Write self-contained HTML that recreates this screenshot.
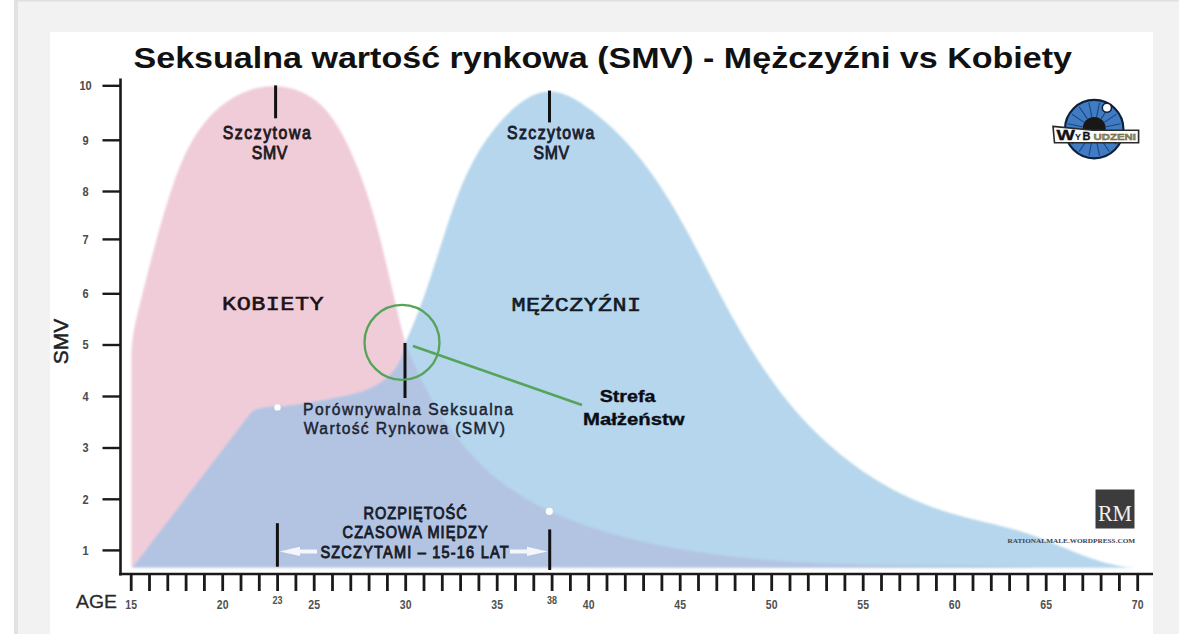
<!DOCTYPE html>
<html><head><meta charset="utf-8">
<style>
html,body{margin:0;padding:0;width:1179px;height:634px;overflow:hidden;background:#f2f2f2;}
svg{position:absolute;left:0;top:0;display:block;}
text{font-family:"Liberation Sans",sans-serif;}
.yl{font-size:12.5px;font-weight:bold;fill:#4a4a4a;text-anchor:middle;}
.xl{font-size:12.5px;font-weight:bold;fill:#505050;text-anchor:middle;}
.xs{font-size:10px;font-weight:bold;fill:#505050;text-anchor:middle;}
.din{font-family:"Liberation Sans",sans-serif;font-weight:normal;stroke-width:0.55px;paint-order:stroke;}
.mono{font-family:"Liberation Mono",monospace;font-weight:bold;}
</style></head>
<body>
<svg width="1179" height="634" viewBox="0 0 1179 634">
<defs>
<clipPath id="pinkclip"><path d="M131.5,567.5 L131.5,360.0 L131.4,357.0 L131.5,354.0 L131.6,351.0 L131.7,348.0 L132.0,345.0 L132.3,342.0 L132.6,339.1 L133.0,336.1 L133.5,333.2 L134.0,330.2 L134.5,327.3 L135.1,324.3 L135.7,321.4 L136.4,318.5 L137.0,315.6 L137.7,312.7 L138.4,309.7 L139.2,306.8 L139.9,303.9 L140.6,301.1 L141.3,298.2 L142.1,295.3 L142.8,292.4 L143.5,289.5 L144.2,286.6 L145.0,283.8 L145.7,280.9 L146.4,278.0 L147.2,275.2 L147.9,272.3 L148.6,269.4 L149.4,266.6 L150.1,263.7 L150.8,260.9 L151.6,258.0 L152.3,255.1 L153.1,252.3 L153.9,249.4 L154.6,246.5 L155.4,243.7 L156.2,240.8 L157.0,237.9 L157.7,235.1 L158.5,232.2 L159.4,229.3 L160.2,226.5 L161.0,223.6 L161.8,220.7 L162.7,217.8 L163.5,214.9 L164.4,212.0 L165.3,209.1 L166.1,206.2 L167.0,203.3 L168.0,200.4 L168.9,197.5 L169.8,194.5 L170.8,191.6 L171.7,188.7 L172.7,185.8 L173.7,182.9 L174.8,179.9 L175.8,177.0 L176.9,174.1 L178.0,171.3 L179.1,168.4 L180.3,165.5 L181.5,162.7 L182.7,159.9 L183.9,157.1 L185.2,154.3 L186.5,151.6 L187.9,148.8 L189.3,146.2 L190.7,143.5 L192.2,140.9 L193.7,138.3 L195.3,135.7 L196.9,133.2 L198.6,130.7 L200.3,128.3 L202.1,125.9 L203.9,123.5 L205.8,121.2 L207.7,118.9 L209.7,116.7 L211.7,114.6 L213.8,112.5 L216.0,110.5 L218.2,108.5 L220.5,106.6 L222.8,104.7 L225.2,102.9 L227.7,101.2 L230.2,99.5 L232.8,98.0 L235.4,96.5 L238.1,95.1 L240.8,93.8 L243.5,92.5 L246.3,91.4 L249.1,90.4 L251.9,89.5 L254.8,88.6 L257.7,87.9 L260.6,87.4 L263.5,86.9 L266.4,86.5 L269.3,86.3 L272.2,86.2 L275.1,86.2 L278.0,86.4 L280.9,86.6 L283.7,87.0 L286.6,87.5 L289.4,88.1 L292.2,88.8 L294.9,89.6 L297.6,90.6 L300.3,91.6 L302.9,92.8 L305.5,94.0 L308.0,95.4 L310.5,96.9 L312.9,98.4 L315.2,100.1 L317.4,101.9 L319.6,103.8 L321.7,105.8 L323.8,107.8 L325.8,110.0 L327.7,112.2 L329.5,114.5 L331.3,116.8 L333.1,119.3 L334.8,121.7 L336.4,124.3 L338.0,126.9 L339.6,129.5 L341.1,132.2 L342.6,134.9 L344.0,137.6 L345.4,140.4 L346.8,143.2 L348.1,146.0 L349.4,148.8 L350.7,151.6 L352.0,154.4 L353.2,157.2 L354.4,160.0 L355.6,162.9 L356.7,165.7 L357.9,168.5 L359.0,171.4 L360.1,174.2 L361.2,177.1 L362.2,179.9 L363.2,182.8 L364.2,185.6 L365.2,188.5 L366.2,191.3 L367.2,194.2 L368.1,197.1 L369.0,200.0 L370.0,202.8 L370.8,205.7 L371.7,208.6 L372.6,211.5 L373.4,214.4 L374.3,217.2 L375.1,220.1 L375.9,223.0 L376.7,225.9 L377.5,228.8 L378.3,231.7 L379.0,234.6 L379.8,237.5 L380.5,240.4 L381.3,243.3 L382.0,246.2 L382.7,249.1 L383.4,252.0 L384.1,254.9 L384.8,257.8 L385.5,260.7 L386.2,263.6 L386.9,266.6 L387.6,269.5 L388.3,272.4 L389.0,275.3 L389.6,278.2 L390.3,281.1 L391.0,284.0 L391.7,286.9 L392.3,289.8 L393.0,292.7 L393.7,295.6 L394.3,298.5 L395.0,301.5 L395.7,304.4 L396.4,307.3 L397.1,310.2 L397.8,313.1 L398.5,316.0 L399.2,318.9 L399.9,321.8 L400.6,324.7 L401.3,327.6 L402.0,330.4 L402.8,333.3 L403.5,336.2 L404.2,339.1 L405.0,342.0 L406.0,344.7 L407.1,347.5 L408.2,350.2 L409.3,352.9 L410.4,355.7 L411.6,358.4 L412.7,361.2 L413.9,363.9 L415.2,366.6 L416.4,369.4 L417.7,372.1 L418.9,374.8 L420.3,377.5 L421.6,380.2 L422.9,382.9 L424.3,385.6 L425.7,388.3 L427.1,391.0 L428.6,393.7 L430.0,396.3 L431.5,399.0 L433.0,401.6 L434.6,404.3 L436.1,406.9 L437.7,409.5 L439.3,412.1 L440.9,414.7 L442.6,417.2 L444.2,419.8 L445.9,422.3 L447.7,424.8 L449.4,427.3 L451.2,429.8 L453.0,432.2 L454.8,434.6 L456.6,437.1 L458.5,439.5 L460.3,441.8 L462.2,444.2 L464.2,446.5 L466.1,448.8 L468.1,451.1 L470.1,453.3 L472.1,455.5 L474.2,457.7 L476.2,459.9 L478.3,462.0 L480.5,464.1 L482.6,466.2 L484.8,468.3 L487.0,470.3 L489.2,472.3 L491.4,474.2 L493.7,476.1 L496.0,478.0 L498.3,479.9 L500.6,481.7 L503.0,483.5 L505.4,485.2 L507.8,487.0 L510.2,488.7 L512.6,490.3 L515.1,492.0 L517.6,493.6 L520.1,495.1 L522.6,496.7 L525.1,498.2 L527.7,499.7 L530.3,501.2 L532.9,502.6 L535.5,504.0 L538.1,505.4 L540.8,506.8 L543.4,508.1 L546.1,509.4 L548.8,510.7 L551.5,511.9 L554.2,513.2 L556.9,514.4 L559.7,515.6 L562.4,516.7 L565.2,517.9 L568.0,519.0 L570.7,520.1 L573.5,521.1 L576.4,522.2 L579.2,523.2 L582.0,524.2 L584.8,525.2 L587.7,526.2 L590.5,527.2 L593.4,528.1 L596.3,529.0 L599.1,529.9 L602.0,530.8 L604.9,531.7 L607.8,532.5 L610.7,533.4 L613.6,534.2 L616.5,535.0 L619.4,535.8 L622.3,536.6 L625.2,537.3 L628.1,538.1 L631.0,538.8 L633.9,539.5 L636.8,540.2 L639.8,540.9 L642.7,541.6 L645.6,542.3 L648.5,542.9 L651.5,543.6 L654.4,544.2 L657.3,544.8 L660.3,545.4 L663.2,546.0 L666.1,546.6 L669.1,547.2 L672.0,547.7 L675.0,548.3 L677.9,548.8 L680.9,549.3 L683.8,549.8 L686.8,550.3 L689.7,550.8 L692.7,551.3 L695.6,551.7 L698.6,552.2 L701.6,552.6 L704.5,553.1 L707.5,553.5 L710.5,553.9 L713.4,554.3 L716.4,554.7 L719.4,555.1 L722.3,555.4 L725.3,555.8 L728.3,556.2 L731.3,556.5 L734.2,556.8 L737.2,557.2 L740.2,557.5 L743.2,557.8 L746.2,558.1 L749.2,558.4 L752.1,558.7 L755.1,558.9 L758.1,559.2 L761.1,559.5 L764.1,559.7 L767.1,560.0 L770.1,560.2 L773.1,560.4 L776.1,560.6 L779.1,560.9 L782.1,561.1 L785.1,561.3 L788.1,561.5 L791.0,561.7 L794.0,561.8 L797.0,562.0 L800.0,562.2 L803.1,562.3 L806.1,562.5 L809.1,562.6 L812.1,562.8 L815.1,562.9 L818.1,563.1 L821.1,563.2 L824.1,563.3 L827.1,563.4 L830.1,563.6 L833.1,563.7 L836.1,563.8 L839.1,563.9 L842.1,564.0 L845.1,564.1 L848.1,564.1 L851.1,564.2 L854.2,564.3 L857.2,564.4 L860.2,564.5 L863.2,564.5 L866.2,564.6 L869.2,564.7 L872.2,564.7 L875.2,564.8 L878.2,564.8 L881.2,564.9 L884.3,564.9 L887.3,565.0 L890.3,565.0 L893.3,565.1 L896.3,565.1 L899.3,565.1 L902.3,565.2 L905.3,565.2 L908.3,565.3 L911.3,565.3 L914.3,565.3 L917.4,565.4 L920.4,565.4 L923.4,565.4 L926.4,565.4 L929.4,565.5 L932.4,565.5 L935.4,565.5 L938.4,565.6 L941.4,565.6 L944.4,565.6 L947.4,565.7 L950.4,565.7 L953.4,565.7 L956.4,565.7 L959.4,565.8 L962.4,565.8 L965.4,565.8 L968.4,565.9 L971.4,565.9 L974.4,566.0 L977.4,566.0 L980.4,566.0 L983.4,566.1 L986.4,566.1 L989.4,566.2 L992.3,566.2 L995.3,566.3 L998.3,566.4 L1001.3,566.4 L1004.3,566.5 L1007.3,566.5 L1010.3,566.6 L1013.2,566.7 L1016.2,566.8 L1019.2,566.8 L1022.2,566.9 L1025.1,567.0 L1028.1,567.1 L1031.1,567.2 L1034.1,567.3 L1037.0,567.4 L1040.0,567.5 L131.5,567.5 Z"/></clipPath>
<filter id="soft" x="-5%" y="-5%" width="110%" height="110%"><feGaussianBlur stdDeviation="1.2"/></filter>
</defs>
<!-- page frame -->
<rect x="0" y="0" width="14" height="634" fill="#ffffff"/>
<rect x="14" y="0" width="4" height="634" fill="#e2e2e2"/>
<rect x="14" y="0" width="1165" height="1.5" fill="#e0e0e0"/>
<rect x="50" y="32" width="1103" height="602" fill="#ffffff"/>

<g filter="url(#soft)">
<path d="M131.5,567.5 L131.5,360.0 L131.4,357.0 L131.5,354.0 L131.6,351.0 L131.7,348.0 L132.0,345.0 L132.3,342.0 L132.6,339.1 L133.0,336.1 L133.5,333.2 L134.0,330.2 L134.5,327.3 L135.1,324.3 L135.7,321.4 L136.4,318.5 L137.0,315.6 L137.7,312.7 L138.4,309.7 L139.2,306.8 L139.9,303.9 L140.6,301.1 L141.3,298.2 L142.1,295.3 L142.8,292.4 L143.5,289.5 L144.2,286.6 L145.0,283.8 L145.7,280.9 L146.4,278.0 L147.2,275.2 L147.9,272.3 L148.6,269.4 L149.4,266.6 L150.1,263.7 L150.8,260.9 L151.6,258.0 L152.3,255.1 L153.1,252.3 L153.9,249.4 L154.6,246.5 L155.4,243.7 L156.2,240.8 L157.0,237.9 L157.7,235.1 L158.5,232.2 L159.4,229.3 L160.2,226.5 L161.0,223.6 L161.8,220.7 L162.7,217.8 L163.5,214.9 L164.4,212.0 L165.3,209.1 L166.1,206.2 L167.0,203.3 L168.0,200.4 L168.9,197.5 L169.8,194.5 L170.8,191.6 L171.7,188.7 L172.7,185.8 L173.7,182.9 L174.8,179.9 L175.8,177.0 L176.9,174.1 L178.0,171.3 L179.1,168.4 L180.3,165.5 L181.5,162.7 L182.7,159.9 L183.9,157.1 L185.2,154.3 L186.5,151.6 L187.9,148.8 L189.3,146.2 L190.7,143.5 L192.2,140.9 L193.7,138.3 L195.3,135.7 L196.9,133.2 L198.6,130.7 L200.3,128.3 L202.1,125.9 L203.9,123.5 L205.8,121.2 L207.7,118.9 L209.7,116.7 L211.7,114.6 L213.8,112.5 L216.0,110.5 L218.2,108.5 L220.5,106.6 L222.8,104.7 L225.2,102.9 L227.7,101.2 L230.2,99.5 L232.8,98.0 L235.4,96.5 L238.1,95.1 L240.8,93.8 L243.5,92.5 L246.3,91.4 L249.1,90.4 L251.9,89.5 L254.8,88.6 L257.7,87.9 L260.6,87.4 L263.5,86.9 L266.4,86.5 L269.3,86.3 L272.2,86.2 L275.1,86.2 L278.0,86.4 L280.9,86.6 L283.7,87.0 L286.6,87.5 L289.4,88.1 L292.2,88.8 L294.9,89.6 L297.6,90.6 L300.3,91.6 L302.9,92.8 L305.5,94.0 L308.0,95.4 L310.5,96.9 L312.9,98.4 L315.2,100.1 L317.4,101.9 L319.6,103.8 L321.7,105.8 L323.8,107.8 L325.8,110.0 L327.7,112.2 L329.5,114.5 L331.3,116.8 L333.1,119.3 L334.8,121.7 L336.4,124.3 L338.0,126.9 L339.6,129.5 L341.1,132.2 L342.6,134.9 L344.0,137.6 L345.4,140.4 L346.8,143.2 L348.1,146.0 L349.4,148.8 L350.7,151.6 L352.0,154.4 L353.2,157.2 L354.4,160.0 L355.6,162.9 L356.7,165.7 L357.9,168.5 L359.0,171.4 L360.1,174.2 L361.2,177.1 L362.2,179.9 L363.2,182.8 L364.2,185.6 L365.2,188.5 L366.2,191.3 L367.2,194.2 L368.1,197.1 L369.0,200.0 L370.0,202.8 L370.8,205.7 L371.7,208.6 L372.6,211.5 L373.4,214.4 L374.3,217.2 L375.1,220.1 L375.9,223.0 L376.7,225.9 L377.5,228.8 L378.3,231.7 L379.0,234.6 L379.8,237.5 L380.5,240.4 L381.3,243.3 L382.0,246.2 L382.7,249.1 L383.4,252.0 L384.1,254.9 L384.8,257.8 L385.5,260.7 L386.2,263.6 L386.9,266.6 L387.6,269.5 L388.3,272.4 L389.0,275.3 L389.6,278.2 L390.3,281.1 L391.0,284.0 L391.7,286.9 L392.3,289.8 L393.0,292.7 L393.7,295.6 L394.3,298.5 L395.0,301.5 L395.7,304.4 L396.4,307.3 L397.1,310.2 L397.8,313.1 L398.5,316.0 L399.2,318.9 L399.9,321.8 L400.6,324.7 L401.3,327.6 L402.0,330.4 L402.8,333.3 L403.5,336.2 L404.2,339.1 L405.0,342.0 L406.0,344.7 L407.1,347.5 L408.2,350.2 L409.3,352.9 L410.4,355.7 L411.6,358.4 L412.7,361.2 L413.9,363.9 L415.2,366.6 L416.4,369.4 L417.7,372.1 L418.9,374.8 L420.3,377.5 L421.6,380.2 L422.9,382.9 L424.3,385.6 L425.7,388.3 L427.1,391.0 L428.6,393.7 L430.0,396.3 L431.5,399.0 L433.0,401.6 L434.6,404.3 L436.1,406.9 L437.7,409.5 L439.3,412.1 L440.9,414.7 L442.6,417.2 L444.2,419.8 L445.9,422.3 L447.7,424.8 L449.4,427.3 L451.2,429.8 L453.0,432.2 L454.8,434.6 L456.6,437.1 L458.5,439.5 L460.3,441.8 L462.2,444.2 L464.2,446.5 L466.1,448.8 L468.1,451.1 L470.1,453.3 L472.1,455.5 L474.2,457.7 L476.2,459.9 L478.3,462.0 L480.5,464.1 L482.6,466.2 L484.8,468.3 L487.0,470.3 L489.2,472.3 L491.4,474.2 L493.7,476.1 L496.0,478.0 L498.3,479.9 L500.6,481.7 L503.0,483.5 L505.4,485.2 L507.8,487.0 L510.2,488.7 L512.6,490.3 L515.1,492.0 L517.6,493.6 L520.1,495.1 L522.6,496.7 L525.1,498.2 L527.7,499.7 L530.3,501.2 L532.9,502.6 L535.5,504.0 L538.1,505.4 L540.8,506.8 L543.4,508.1 L546.1,509.4 L548.8,510.7 L551.5,511.9 L554.2,513.2 L556.9,514.4 L559.7,515.6 L562.4,516.7 L565.2,517.9 L568.0,519.0 L570.7,520.1 L573.5,521.1 L576.4,522.2 L579.2,523.2 L582.0,524.2 L584.8,525.2 L587.7,526.2 L590.5,527.2 L593.4,528.1 L596.3,529.0 L599.1,529.9 L602.0,530.8 L604.9,531.7 L607.8,532.5 L610.7,533.4 L613.6,534.2 L616.5,535.0 L619.4,535.8 L622.3,536.6 L625.2,537.3 L628.1,538.1 L631.0,538.8 L633.9,539.5 L636.8,540.2 L639.8,540.9 L642.7,541.6 L645.6,542.3 L648.5,542.9 L651.5,543.6 L654.4,544.2 L657.3,544.8 L660.3,545.4 L663.2,546.0 L666.1,546.6 L669.1,547.2 L672.0,547.7 L675.0,548.3 L677.9,548.8 L680.9,549.3 L683.8,549.8 L686.8,550.3 L689.7,550.8 L692.7,551.3 L695.6,551.7 L698.6,552.2 L701.6,552.6 L704.5,553.1 L707.5,553.5 L710.5,553.9 L713.4,554.3 L716.4,554.7 L719.4,555.1 L722.3,555.4 L725.3,555.8 L728.3,556.2 L731.3,556.5 L734.2,556.8 L737.2,557.2 L740.2,557.5 L743.2,557.8 L746.2,558.1 L749.2,558.4 L752.1,558.7 L755.1,558.9 L758.1,559.2 L761.1,559.5 L764.1,559.7 L767.1,560.0 L770.1,560.2 L773.1,560.4 L776.1,560.6 L779.1,560.9 L782.1,561.1 L785.1,561.3 L788.1,561.5 L791.0,561.7 L794.0,561.8 L797.0,562.0 L800.0,562.2 L803.1,562.3 L806.1,562.5 L809.1,562.6 L812.1,562.8 L815.1,562.9 L818.1,563.1 L821.1,563.2 L824.1,563.3 L827.1,563.4 L830.1,563.6 L833.1,563.7 L836.1,563.8 L839.1,563.9 L842.1,564.0 L845.1,564.1 L848.1,564.1 L851.1,564.2 L854.2,564.3 L857.2,564.4 L860.2,564.5 L863.2,564.5 L866.2,564.6 L869.2,564.7 L872.2,564.7 L875.2,564.8 L878.2,564.8 L881.2,564.9 L884.3,564.9 L887.3,565.0 L890.3,565.0 L893.3,565.1 L896.3,565.1 L899.3,565.1 L902.3,565.2 L905.3,565.2 L908.3,565.3 L911.3,565.3 L914.3,565.3 L917.4,565.4 L920.4,565.4 L923.4,565.4 L926.4,565.4 L929.4,565.5 L932.4,565.5 L935.4,565.5 L938.4,565.6 L941.4,565.6 L944.4,565.6 L947.4,565.7 L950.4,565.7 L953.4,565.7 L956.4,565.7 L959.4,565.8 L962.4,565.8 L965.4,565.8 L968.4,565.9 L971.4,565.9 L974.4,566.0 L977.4,566.0 L980.4,566.0 L983.4,566.1 L986.4,566.1 L989.4,566.2 L992.3,566.2 L995.3,566.3 L998.3,566.4 L1001.3,566.4 L1004.3,566.5 L1007.3,566.5 L1010.3,566.6 L1013.2,566.7 L1016.2,566.8 L1019.2,566.8 L1022.2,566.9 L1025.1,567.0 L1028.1,567.1 L1031.1,567.2 L1034.1,567.3 L1037.0,567.4 L1040.0,567.5 L131.5,567.5 Z" fill="#f0ccd8"/>
<path d="M132.5,567.5 L251.0,412.5 L253.4,410.9 L256.0,409.6 L258.7,408.6 L261.5,407.9 L264.4,407.4 L267.3,407.1 L270.3,406.8 L273.3,406.6 L276.3,406.5 L279.3,406.3 L282.3,406.1 L285.3,405.9 L288.3,405.6 L291.2,405.2 L294.2,404.9 L297.1,404.5 L300.0,404.1 L302.9,403.6 L305.9,403.2 L308.8,402.7 L311.7,402.2 L314.6,401.6 L317.6,401.1 L320.5,400.6 L323.5,400.0 L326.4,399.5 L329.4,398.9 L332.4,398.3 L335.4,397.8 L338.4,397.2 L341.4,396.6 L344.4,396.0 L347.3,395.3 L350.3,394.7 L353.3,393.9 L356.2,393.1 L359.1,392.3 L361.9,391.4 L364.7,390.4 L367.5,389.3 L370.2,388.2 L372.9,386.9 L375.5,385.6 L378.0,384.1 L380.5,382.6 L382.9,380.9 L385.2,379.1 L387.4,377.2 L389.5,375.1 L391.5,373.0 L393.5,370.7 L395.3,368.4 L396.9,365.9 L398.5,363.3 L399.9,360.7 L401.2,357.9 L402.3,355.1 L403.2,352.2 L404.0,349.2 L404.6,346.1 L405.0,343.0 L406.2,340.4 L407.5,337.7 L408.7,335.0 L409.9,332.3 L411.1,329.6 L412.2,326.9 L413.4,324.1 L414.5,321.4 L415.6,318.6 L416.7,315.8 L417.8,313.0 L418.9,310.2 L419.9,307.4 L421.0,304.6 L422.0,301.7 L423.1,298.9 L424.1,296.0 L425.1,293.2 L426.1,290.3 L427.1,287.4 L428.1,284.6 L429.0,281.7 L430.0,278.8 L431.0,275.9 L431.9,273.0 L432.9,270.1 L433.8,267.2 L434.7,264.4 L435.7,261.5 L436.6,258.6 L437.5,255.7 L438.5,252.8 L439.4,249.9 L440.3,247.0 L441.2,244.1 L442.2,241.3 L443.1,238.4 L444.0,235.5 L444.9,232.7 L445.8,229.8 L446.8,227.0 L447.7,224.2 L448.6,221.4 L449.6,218.5 L450.5,215.7 L451.5,212.9 L452.4,210.2 L453.4,207.4 L454.4,204.6 L455.4,201.9 L456.4,199.1 L457.4,196.4 L458.5,193.6 L459.6,190.9 L460.6,188.2 L461.7,185.5 L462.9,182.8 L464.0,180.2 L465.2,177.5 L466.4,174.8 L467.7,172.2 L469.0,169.5 L470.3,166.9 L471.6,164.3 L473.0,161.7 L474.4,159.1 L475.8,156.5 L477.3,153.9 L478.8,151.3 L480.4,148.8 L482.0,146.2 L483.7,143.7 L485.4,141.2 L487.1,138.7 L488.9,136.2 L490.8,133.7 L492.7,131.2 L494.6,128.7 L496.7,126.2 L498.7,123.8 L500.8,121.3 L503.0,118.9 L505.3,116.5 L507.5,114.2 L509.9,111.9 L512.2,109.7 L514.6,107.6 L517.1,105.5 L519.6,103.6 L522.1,101.7 L524.7,100.0 L527.2,98.4 L529.9,96.9 L532.5,95.6 L535.2,94.5 L537.8,93.5 L540.5,92.7 L543.2,92.1 L546.0,91.7 L548.7,91.6 L551.4,91.6 L554.2,91.8 L556.9,92.3 L559.7,92.9 L562.4,93.7 L565.1,94.7 L567.9,95.8 L570.6,97.1 L573.3,98.5 L576.0,100.0 L578.6,101.6 L581.3,103.3 L583.9,105.0 L586.5,106.9 L589.0,108.7 L591.6,110.6 L594.1,112.5 L596.5,114.4 L598.9,116.4 L601.3,118.4 L603.7,120.4 L606.0,122.4 L608.3,124.4 L610.5,126.5 L612.8,128.6 L615.0,130.7 L617.1,132.8 L619.3,134.9 L621.4,137.1 L623.5,139.3 L625.5,141.5 L627.6,143.7 L629.6,145.9 L631.5,148.2 L633.5,150.4 L635.4,152.7 L637.3,155.0 L639.2,157.3 L641.1,159.7 L642.9,162.0 L644.7,164.4 L646.5,166.8 L648.3,169.2 L650.0,171.6 L651.8,174.0 L653.5,176.4 L655.2,178.8 L656.9,181.3 L658.5,183.8 L660.2,186.2 L661.8,188.7 L663.4,191.2 L665.0,193.8 L666.6,196.3 L668.2,198.8 L669.8,201.3 L671.3,203.9 L672.8,206.5 L674.4,209.0 L675.9,211.6 L677.4,214.2 L678.9,216.8 L680.3,219.4 L681.8,222.0 L683.3,224.6 L684.7,227.2 L686.2,229.8 L687.6,232.5 L689.0,235.1 L690.5,237.8 L691.9,240.4 L693.3,243.0 L694.7,245.7 L696.1,248.4 L697.5,251.0 L698.9,253.7 L700.3,256.3 L701.7,259.0 L703.0,261.7 L704.4,264.3 L705.8,267.0 L707.2,269.7 L708.6,272.3 L710.0,275.0 L711.3,277.7 L712.7,280.4 L714.1,283.0 L715.5,285.7 L716.9,288.3 L718.3,291.0 L719.7,293.7 L721.1,296.3 L722.5,299.0 L723.9,301.6 L725.3,304.3 L726.7,306.9 L728.2,309.5 L729.6,312.2 L731.0,314.8 L732.5,317.4 L734.0,320.0 L735.4,322.6 L736.9,325.2 L738.4,327.8 L739.9,330.4 L741.4,333.0 L742.9,335.6 L744.4,338.2 L745.9,340.7 L747.4,343.3 L749.0,345.8 L750.5,348.4 L752.1,350.9 L753.7,353.4 L755.3,356.0 L756.9,358.5 L758.5,361.0 L760.1,363.5 L761.8,365.9 L763.4,368.4 L765.1,370.9 L766.8,373.3 L768.5,375.8 L770.2,378.2 L771.9,380.6 L773.6,383.0 L775.4,385.4 L777.2,387.8 L778.9,390.2 L780.7,392.5 L782.6,394.9 L784.4,397.2 L786.2,399.6 L788.1,401.9 L790.0,404.2 L791.9,406.5 L793.8,408.7 L795.8,411.0 L797.7,413.2 L799.7,415.5 L801.7,417.7 L803.7,419.9 L805.7,422.1 L807.8,424.3 L809.9,426.4 L812.0,428.6 L814.1,430.7 L816.2,432.8 L818.4,434.9 L820.5,437.0 L822.7,439.0 L824.9,441.1 L827.2,443.1 L829.4,445.1 L831.7,447.1 L834.0,449.1 L836.3,451.0 L838.6,453.0 L840.9,454.9 L843.3,456.8 L845.7,458.6 L848.1,460.5 L850.5,462.3 L852.9,464.1 L855.3,465.9 L857.8,467.7 L860.2,469.4 L862.7,471.2 L865.2,472.9 L867.7,474.5 L870.2,476.2 L872.8,477.8 L875.3,479.4 L877.9,481.0 L880.5,482.5 L883.0,484.1 L885.6,485.6 L888.3,487.1 L890.9,488.5 L893.5,489.9 L896.2,491.3 L898.8,492.7 L901.5,494.0 L904.2,495.3 L906.9,496.6 L909.6,497.9 L912.3,499.1 L915.0,500.3 L917.7,501.5 L920.5,502.6 L923.2,503.7 L926.0,504.8 L928.7,505.8 L931.5,506.9 L934.3,507.9 L937.1,508.8 L939.9,509.8 L942.7,510.7 L945.5,511.6 L948.3,512.5 L951.2,513.4 L954.0,514.2 L956.9,515.0 L959.8,515.8 L962.6,516.6 L965.5,517.4 L968.4,518.1 L971.3,518.9 L974.2,519.6 L977.1,520.3 L980.1,521.0 L983.0,521.7 L985.9,522.4 L988.8,523.1 L991.8,523.8 L994.7,524.5 L997.6,525.2 L1000.6,525.9 L1003.5,526.7 L1006.4,527.4 L1009.3,528.2 L1012.2,529.0 L1015.1,529.8 L1018.0,530.6 L1020.9,531.5 L1023.8,532.4 L1026.6,533.3 L1029.4,534.2 L1032.3,535.2 L1035.1,536.2 L1037.9,537.3 L1040.7,538.3 L1043.5,539.4 L1046.3,540.5 L1049.0,541.6 L1051.8,542.8 L1054.6,543.9 L1057.3,545.0 L1060.1,546.2 L1062.9,547.3 L1065.6,548.5 L1068.4,549.6 L1071.1,550.8 L1073.9,551.9 L1076.7,553.0 L1079.5,554.1 L1082.3,555.2 L1085.0,556.2 L1087.9,557.2 L1090.7,558.2 L1093.5,559.2 L1096.3,560.1 L1099.2,561.0 L1102.1,561.9 L1105.0,562.7 L1107.9,563.4 L1110.8,564.1 L1113.7,564.8 L1116.7,565.4 L1119.7,566.0 L1122.7,566.5 L1125.7,566.9 L1128.8,567.3 L1131.9,567.6 L1135.0,567.8 L132.5,567.5 Z" fill="#b5d6ec"/>
<path d="M132.5,567.5 L251.0,412.5 L253.4,410.9 L256.0,409.6 L258.7,408.6 L261.5,407.9 L264.4,407.4 L267.3,407.1 L270.3,406.8 L273.3,406.6 L276.3,406.5 L279.3,406.3 L282.3,406.1 L285.3,405.9 L288.3,405.6 L291.2,405.2 L294.2,404.9 L297.1,404.5 L300.0,404.1 L302.9,403.6 L305.9,403.2 L308.8,402.7 L311.7,402.2 L314.6,401.6 L317.6,401.1 L320.5,400.6 L323.5,400.0 L326.4,399.5 L329.4,398.9 L332.4,398.3 L335.4,397.8 L338.4,397.2 L341.4,396.6 L344.4,396.0 L347.3,395.3 L350.3,394.7 L353.3,393.9 L356.2,393.1 L359.1,392.3 L361.9,391.4 L364.7,390.4 L367.5,389.3 L370.2,388.2 L372.9,386.9 L375.5,385.6 L378.0,384.1 L380.5,382.6 L382.9,380.9 L385.2,379.1 L387.4,377.2 L389.5,375.1 L391.5,373.0 L393.5,370.7 L395.3,368.4 L396.9,365.9 L398.5,363.3 L399.9,360.7 L401.2,357.9 L402.3,355.1 L403.2,352.2 L404.0,349.2 L404.6,346.1 L405.0,343.0 L406.2,340.4 L407.5,337.7 L408.7,335.0 L409.9,332.3 L411.1,329.6 L412.2,326.9 L413.4,324.1 L414.5,321.4 L415.6,318.6 L416.7,315.8 L417.8,313.0 L418.9,310.2 L419.9,307.4 L421.0,304.6 L422.0,301.7 L423.1,298.9 L424.1,296.0 L425.1,293.2 L426.1,290.3 L427.1,287.4 L428.1,284.6 L429.0,281.7 L430.0,278.8 L431.0,275.9 L431.9,273.0 L432.9,270.1 L433.8,267.2 L434.7,264.4 L435.7,261.5 L436.6,258.6 L437.5,255.7 L438.5,252.8 L439.4,249.9 L440.3,247.0 L441.2,244.1 L442.2,241.3 L443.1,238.4 L444.0,235.5 L444.9,232.7 L445.8,229.8 L446.8,227.0 L447.7,224.2 L448.6,221.4 L449.6,218.5 L450.5,215.7 L451.5,212.9 L452.4,210.2 L453.4,207.4 L454.4,204.6 L455.4,201.9 L456.4,199.1 L457.4,196.4 L458.5,193.6 L459.6,190.9 L460.6,188.2 L461.7,185.5 L462.9,182.8 L464.0,180.2 L465.2,177.5 L466.4,174.8 L467.7,172.2 L469.0,169.5 L470.3,166.9 L471.6,164.3 L473.0,161.7 L474.4,159.1 L475.8,156.5 L477.3,153.9 L478.8,151.3 L480.4,148.8 L482.0,146.2 L483.7,143.7 L485.4,141.2 L487.1,138.7 L488.9,136.2 L490.8,133.7 L492.7,131.2 L494.6,128.7 L496.7,126.2 L498.7,123.8 L500.8,121.3 L503.0,118.9 L505.3,116.5 L507.5,114.2 L509.9,111.9 L512.2,109.7 L514.6,107.6 L517.1,105.5 L519.6,103.6 L522.1,101.7 L524.7,100.0 L527.2,98.4 L529.9,96.9 L532.5,95.6 L535.2,94.5 L537.8,93.5 L540.5,92.7 L543.2,92.1 L546.0,91.7 L548.7,91.6 L551.4,91.6 L554.2,91.8 L556.9,92.3 L559.7,92.9 L562.4,93.7 L565.1,94.7 L567.9,95.8 L570.6,97.1 L573.3,98.5 L576.0,100.0 L578.6,101.6 L581.3,103.3 L583.9,105.0 L586.5,106.9 L589.0,108.7 L591.6,110.6 L594.1,112.5 L596.5,114.4 L598.9,116.4 L601.3,118.4 L603.7,120.4 L606.0,122.4 L608.3,124.4 L610.5,126.5 L612.8,128.6 L615.0,130.7 L617.1,132.8 L619.3,134.9 L621.4,137.1 L623.5,139.3 L625.5,141.5 L627.6,143.7 L629.6,145.9 L631.5,148.2 L633.5,150.4 L635.4,152.7 L637.3,155.0 L639.2,157.3 L641.1,159.7 L642.9,162.0 L644.7,164.4 L646.5,166.8 L648.3,169.2 L650.0,171.6 L651.8,174.0 L653.5,176.4 L655.2,178.8 L656.9,181.3 L658.5,183.8 L660.2,186.2 L661.8,188.7 L663.4,191.2 L665.0,193.8 L666.6,196.3 L668.2,198.8 L669.8,201.3 L671.3,203.9 L672.8,206.5 L674.4,209.0 L675.9,211.6 L677.4,214.2 L678.9,216.8 L680.3,219.4 L681.8,222.0 L683.3,224.6 L684.7,227.2 L686.2,229.8 L687.6,232.5 L689.0,235.1 L690.5,237.8 L691.9,240.4 L693.3,243.0 L694.7,245.7 L696.1,248.4 L697.5,251.0 L698.9,253.7 L700.3,256.3 L701.7,259.0 L703.0,261.7 L704.4,264.3 L705.8,267.0 L707.2,269.7 L708.6,272.3 L710.0,275.0 L711.3,277.7 L712.7,280.4 L714.1,283.0 L715.5,285.7 L716.9,288.3 L718.3,291.0 L719.7,293.7 L721.1,296.3 L722.5,299.0 L723.9,301.6 L725.3,304.3 L726.7,306.9 L728.2,309.5 L729.6,312.2 L731.0,314.8 L732.5,317.4 L734.0,320.0 L735.4,322.6 L736.9,325.2 L738.4,327.8 L739.9,330.4 L741.4,333.0 L742.9,335.6 L744.4,338.2 L745.9,340.7 L747.4,343.3 L749.0,345.8 L750.5,348.4 L752.1,350.9 L753.7,353.4 L755.3,356.0 L756.9,358.5 L758.5,361.0 L760.1,363.5 L761.8,365.9 L763.4,368.4 L765.1,370.9 L766.8,373.3 L768.5,375.8 L770.2,378.2 L771.9,380.6 L773.6,383.0 L775.4,385.4 L777.2,387.8 L778.9,390.2 L780.7,392.5 L782.6,394.9 L784.4,397.2 L786.2,399.6 L788.1,401.9 L790.0,404.2 L791.9,406.5 L793.8,408.7 L795.8,411.0 L797.7,413.2 L799.7,415.5 L801.7,417.7 L803.7,419.9 L805.7,422.1 L807.8,424.3 L809.9,426.4 L812.0,428.6 L814.1,430.7 L816.2,432.8 L818.4,434.9 L820.5,437.0 L822.7,439.0 L824.9,441.1 L827.2,443.1 L829.4,445.1 L831.7,447.1 L834.0,449.1 L836.3,451.0 L838.6,453.0 L840.9,454.9 L843.3,456.8 L845.7,458.6 L848.1,460.5 L850.5,462.3 L852.9,464.1 L855.3,465.9 L857.8,467.7 L860.2,469.4 L862.7,471.2 L865.2,472.9 L867.7,474.5 L870.2,476.2 L872.8,477.8 L875.3,479.4 L877.9,481.0 L880.5,482.5 L883.0,484.1 L885.6,485.6 L888.3,487.1 L890.9,488.5 L893.5,489.9 L896.2,491.3 L898.8,492.7 L901.5,494.0 L904.2,495.3 L906.9,496.6 L909.6,497.9 L912.3,499.1 L915.0,500.3 L917.7,501.5 L920.5,502.6 L923.2,503.7 L926.0,504.8 L928.7,505.8 L931.5,506.9 L934.3,507.9 L937.1,508.8 L939.9,509.8 L942.7,510.7 L945.5,511.6 L948.3,512.5 L951.2,513.4 L954.0,514.2 L956.9,515.0 L959.8,515.8 L962.6,516.6 L965.5,517.4 L968.4,518.1 L971.3,518.9 L974.2,519.6 L977.1,520.3 L980.1,521.0 L983.0,521.7 L985.9,522.4 L988.8,523.1 L991.8,523.8 L994.7,524.5 L997.6,525.2 L1000.6,525.9 L1003.5,526.7 L1006.4,527.4 L1009.3,528.2 L1012.2,529.0 L1015.1,529.8 L1018.0,530.6 L1020.9,531.5 L1023.8,532.4 L1026.6,533.3 L1029.4,534.2 L1032.3,535.2 L1035.1,536.2 L1037.9,537.3 L1040.7,538.3 L1043.5,539.4 L1046.3,540.5 L1049.0,541.6 L1051.8,542.8 L1054.6,543.9 L1057.3,545.0 L1060.1,546.2 L1062.9,547.3 L1065.6,548.5 L1068.4,549.6 L1071.1,550.8 L1073.9,551.9 L1076.7,553.0 L1079.5,554.1 L1082.3,555.2 L1085.0,556.2 L1087.9,557.2 L1090.7,558.2 L1093.5,559.2 L1096.3,560.1 L1099.2,561.0 L1102.1,561.9 L1105.0,562.7 L1107.9,563.4 L1110.8,564.1 L1113.7,564.8 L1116.7,565.4 L1119.7,566.0 L1122.7,566.5 L1125.7,566.9 L1128.8,567.3 L1131.9,567.6 L1135.0,567.8 L132.5,567.5 Z" fill="#b3c4e2" clip-path="url(#pinkclip)"/>
</g>

<!-- title -->
<text x="133.5" y="68.3" textLength="938.5" lengthAdjust="spacingAndGlyphs" style="font-family:'Liberation Sans',sans-serif;font-weight:bold;font-size:30px;fill:#111;">Seksualna wartość rynkowa (SMV) - Mężczyźni vs Kobiety</text>

<line x1="120.5" y1="78.5" x2="120.5" y2="575.5" stroke="#1a1a1a" stroke-width="2.6"/>
<line x1="102.5" y1="85.8" x2="121" y2="85.8" stroke="#1a1a1a" stroke-width="2.4"/>
<text transform="translate(85.6,90.2) scale(0.88,1)" x="0" y="0" class="yl">10</text>
<line x1="102.5" y1="140.3" x2="121" y2="140.3" stroke="#1a1a1a" stroke-width="2.4"/>
<text transform="translate(85.6,144.7) scale(0.88,1)" x="0" y="0" class="yl">9</text>
<line x1="102.5" y1="191.5" x2="121" y2="191.5" stroke="#1a1a1a" stroke-width="2.4"/>
<text transform="translate(85.6,195.9) scale(0.88,1)" x="0" y="0" class="yl">8</text>
<line x1="102.5" y1="239.4" x2="121" y2="239.4" stroke="#1a1a1a" stroke-width="2.4"/>
<text transform="translate(85.6,243.8) scale(0.88,1)" x="0" y="0" class="yl">7</text>
<line x1="102.5" y1="293.8" x2="121" y2="293.8" stroke="#1a1a1a" stroke-width="2.4"/>
<text transform="translate(85.6,298.2) scale(0.88,1)" x="0" y="0" class="yl">6</text>
<line x1="102.5" y1="345.0" x2="121" y2="345.0" stroke="#1a1a1a" stroke-width="2.4"/>
<text transform="translate(85.6,349.4) scale(0.88,1)" x="0" y="0" class="yl">5</text>
<line x1="102.5" y1="396.5" x2="121" y2="396.5" stroke="#1a1a1a" stroke-width="2.4"/>
<text transform="translate(85.6,400.9) scale(0.88,1)" x="0" y="0" class="yl">4</text>
<line x1="102.5" y1="448.0" x2="121" y2="448.0" stroke="#1a1a1a" stroke-width="2.4"/>
<text transform="translate(85.6,452.4) scale(0.88,1)" x="0" y="0" class="yl">3</text>
<line x1="102.5" y1="499.3" x2="121" y2="499.3" stroke="#1a1a1a" stroke-width="2.4"/>
<text transform="translate(85.6,503.7) scale(0.88,1)" x="0" y="0" class="yl">2</text>
<line x1="102.5" y1="550.4" x2="121" y2="550.4" stroke="#1a1a1a" stroke-width="2.4"/>
<text transform="translate(85.6,554.8) scale(0.88,1)" x="0" y="0" class="yl">1</text>
<line x1="119" y1="574" x2="1153" y2="574" stroke="#1a1a1a" stroke-width="2.6"/>
<line x1="131.2" y1="574" x2="131.2" y2="591" stroke="#1a1a1a" stroke-width="2.8"/>
<line x1="149.5" y1="574" x2="149.5" y2="591" stroke="#1a1a1a" stroke-width="2.8"/>
<line x1="167.8" y1="574" x2="167.8" y2="591" stroke="#1a1a1a" stroke-width="2.8"/>
<line x1="186.1" y1="574" x2="186.1" y2="591" stroke="#1a1a1a" stroke-width="2.8"/>
<line x1="204.4" y1="574" x2="204.4" y2="591" stroke="#1a1a1a" stroke-width="2.8"/>
<line x1="222.7" y1="574" x2="222.7" y2="591" stroke="#1a1a1a" stroke-width="2.8"/>
<line x1="241.0" y1="574" x2="241.0" y2="591" stroke="#1a1a1a" stroke-width="2.8"/>
<line x1="259.3" y1="574" x2="259.3" y2="591" stroke="#1a1a1a" stroke-width="2.8"/>
<line x1="277.6" y1="574" x2="277.6" y2="591" stroke="#1a1a1a" stroke-width="2.8"/>
<line x1="295.9" y1="574" x2="295.9" y2="591" stroke="#1a1a1a" stroke-width="2.8"/>
<line x1="314.2" y1="574" x2="314.2" y2="591" stroke="#1a1a1a" stroke-width="2.8"/>
<line x1="332.5" y1="574" x2="332.5" y2="591" stroke="#1a1a1a" stroke-width="2.8"/>
<line x1="350.8" y1="574" x2="350.8" y2="591" stroke="#1a1a1a" stroke-width="2.8"/>
<line x1="369.1" y1="574" x2="369.1" y2="591" stroke="#1a1a1a" stroke-width="2.8"/>
<line x1="387.4" y1="574" x2="387.4" y2="591" stroke="#1a1a1a" stroke-width="2.8"/>
<line x1="405.7" y1="574" x2="405.7" y2="591" stroke="#1a1a1a" stroke-width="2.8"/>
<line x1="424.0" y1="574" x2="424.0" y2="591" stroke="#1a1a1a" stroke-width="2.8"/>
<line x1="442.3" y1="574" x2="442.3" y2="591" stroke="#1a1a1a" stroke-width="2.8"/>
<line x1="460.6" y1="574" x2="460.6" y2="591" stroke="#1a1a1a" stroke-width="2.8"/>
<line x1="478.9" y1="574" x2="478.9" y2="591" stroke="#1a1a1a" stroke-width="2.8"/>
<line x1="497.2" y1="574" x2="497.2" y2="591" stroke="#1a1a1a" stroke-width="2.8"/>
<line x1="515.5" y1="574" x2="515.5" y2="591" stroke="#1a1a1a" stroke-width="2.8"/>
<line x1="533.8" y1="574" x2="533.8" y2="591" stroke="#1a1a1a" stroke-width="2.8"/>
<line x1="552.1" y1="574" x2="552.1" y2="591" stroke="#1a1a1a" stroke-width="2.8"/>
<line x1="570.4" y1="574" x2="570.4" y2="591" stroke="#1a1a1a" stroke-width="2.8"/>
<line x1="588.7" y1="574" x2="588.7" y2="591" stroke="#1a1a1a" stroke-width="2.8"/>
<line x1="607.0" y1="574" x2="607.0" y2="591" stroke="#1a1a1a" stroke-width="2.8"/>
<line x1="625.3" y1="574" x2="625.3" y2="591" stroke="#1a1a1a" stroke-width="2.8"/>
<line x1="643.6" y1="574" x2="643.6" y2="591" stroke="#1a1a1a" stroke-width="2.8"/>
<line x1="661.9" y1="574" x2="661.9" y2="591" stroke="#1a1a1a" stroke-width="2.8"/>
<line x1="680.2" y1="574" x2="680.2" y2="591" stroke="#1a1a1a" stroke-width="2.8"/>
<line x1="698.5" y1="574" x2="698.5" y2="591" stroke="#1a1a1a" stroke-width="2.8"/>
<line x1="716.8" y1="574" x2="716.8" y2="591" stroke="#1a1a1a" stroke-width="2.8"/>
<line x1="735.1" y1="574" x2="735.1" y2="591" stroke="#1a1a1a" stroke-width="2.8"/>
<line x1="753.4" y1="574" x2="753.4" y2="591" stroke="#1a1a1a" stroke-width="2.8"/>
<line x1="771.7" y1="574" x2="771.7" y2="591" stroke="#1a1a1a" stroke-width="2.8"/>
<line x1="790.0" y1="574" x2="790.0" y2="591" stroke="#1a1a1a" stroke-width="2.8"/>
<line x1="808.3" y1="574" x2="808.3" y2="591" stroke="#1a1a1a" stroke-width="2.8"/>
<line x1="826.6" y1="574" x2="826.6" y2="591" stroke="#1a1a1a" stroke-width="2.8"/>
<line x1="844.9" y1="574" x2="844.9" y2="591" stroke="#1a1a1a" stroke-width="2.8"/>
<line x1="863.2" y1="574" x2="863.2" y2="591" stroke="#1a1a1a" stroke-width="2.8"/>
<line x1="881.5" y1="574" x2="881.5" y2="591" stroke="#1a1a1a" stroke-width="2.8"/>
<line x1="899.8" y1="574" x2="899.8" y2="591" stroke="#1a1a1a" stroke-width="2.8"/>
<line x1="918.1" y1="574" x2="918.1" y2="591" stroke="#1a1a1a" stroke-width="2.8"/>
<line x1="936.4" y1="574" x2="936.4" y2="591" stroke="#1a1a1a" stroke-width="2.8"/>
<line x1="954.7" y1="574" x2="954.7" y2="591" stroke="#1a1a1a" stroke-width="2.8"/>
<line x1="973.0" y1="574" x2="973.0" y2="591" stroke="#1a1a1a" stroke-width="2.8"/>
<line x1="991.3" y1="574" x2="991.3" y2="591" stroke="#1a1a1a" stroke-width="2.8"/>
<line x1="1009.6" y1="574" x2="1009.6" y2="591" stroke="#1a1a1a" stroke-width="2.8"/>
<line x1="1027.9" y1="574" x2="1027.9" y2="591" stroke="#1a1a1a" stroke-width="2.8"/>
<line x1="1046.2" y1="574" x2="1046.2" y2="591" stroke="#1a1a1a" stroke-width="2.8"/>
<line x1="1064.5" y1="574" x2="1064.5" y2="591" stroke="#1a1a1a" stroke-width="2.8"/>
<line x1="1082.8" y1="574" x2="1082.8" y2="591" stroke="#1a1a1a" stroke-width="2.8"/>
<line x1="1101.1" y1="574" x2="1101.1" y2="591" stroke="#1a1a1a" stroke-width="2.8"/>
<line x1="1119.4" y1="574" x2="1119.4" y2="591" stroke="#1a1a1a" stroke-width="2.8"/>
<line x1="1137.7" y1="574" x2="1137.7" y2="591" stroke="#1a1a1a" stroke-width="2.8"/>
<text transform="translate(131.2,608.8) scale(0.84,1)" x="0" y="0" class="xl">15</text>
<text transform="translate(222.7,608.8) scale(0.84,1)" x="0" y="0" class="xl">20</text>
<text transform="translate(314.2,608.8) scale(0.84,1)" x="0" y="0" class="xl">25</text>
<text transform="translate(405.7,608.8) scale(0.84,1)" x="0" y="0" class="xl">30</text>
<text transform="translate(497.2,608.8) scale(0.84,1)" x="0" y="0" class="xl">35</text>
<text transform="translate(588.7,608.8) scale(0.84,1)" x="0" y="0" class="xl">40</text>
<text transform="translate(680.2,608.8) scale(0.84,1)" x="0" y="0" class="xl">45</text>
<text transform="translate(771.7,608.8) scale(0.84,1)" x="0" y="0" class="xl">50</text>
<text transform="translate(863.2,608.8) scale(0.84,1)" x="0" y="0" class="xl">55</text>
<text transform="translate(954.7,608.8) scale(0.84,1)" x="0" y="0" class="xl">60</text>
<text transform="translate(1046.2,608.8) scale(0.84,1)" x="0" y="0" class="xl">65</text>
<text transform="translate(1137.7,608.8) scale(0.84,1)" x="0" y="0" class="xl">70</text>
<text transform="translate(277.6,604.3) scale(0.9,1)" x="0" y="0" class="xs">23</text>
<text transform="translate(552.1,604.3) scale(0.9,1)" x="0" y="0" class="xs">38</text>

<!-- y label -->
<text transform="translate(67.9,364.2) rotate(-90)" x="0" y="0" textLength="45.5" lengthAdjust="spacingAndGlyphs" style="font-size:20.5px;fill:#222;stroke:#222;stroke-width:0.5px;">SMV</text>
<text x="76" y="608" textLength="41" lengthAdjust="spacingAndGlyphs" style="font-size:19px;fill:#2a2a2a;stroke:#2a2a2a;stroke-width:0.3px;">AGE</text>

<!-- peak markers -->
<line x1="275.6" y1="85.4" x2="275.6" y2="118.3" stroke="#111" stroke-width="3"/>
<line x1="549.5" y1="90.6" x2="549.5" y2="122.4" stroke="#111" stroke-width="3"/>
<text transform="translate(222.70,139.00) scale(0.880,1)" x="0" y="0" textLength="100.00" lengthAdjust="spacing" style="font-family:'Liberation Sans';font-size:18.00px;font-weight:normal;fill:#1e1a1e;stroke:#1e1a1e;stroke-width:0.90px;">Szczytowa</text>
<text transform="translate(251.80,158.80) scale(0.880,1)" x="0" y="0" textLength="40.34" lengthAdjust="spacing" style="font-family:'Liberation Sans';font-size:18.00px;font-weight:normal;fill:#1e1a1e;stroke:#1e1a1e;stroke-width:0.90px;">SMV</text>
<text transform="translate(507.00,139.30) scale(0.880,1)" x="0" y="0" textLength="99.09" lengthAdjust="spacing" style="font-family:'Liberation Sans';font-size:18.00px;font-weight:normal;fill:#1a2030;stroke:#1a2030;stroke-width:0.90px;">Szczytowa</text>
<text transform="translate(533.60,158.80) scale(0.880,1)" x="0" y="0" textLength="40.23" lengthAdjust="spacing" style="font-family:'Liberation Sans';font-size:18.00px;font-weight:normal;fill:#1a2030;stroke:#1a2030;stroke-width:0.90px;">SMV</text>
<text transform="translate(303.00,414.50) scale(0.950,1)" x="0" y="0" textLength="221.05" lengthAdjust="spacing" style="font-family:'Liberation Sans';font-size:16.50px;font-weight:normal;fill:#1c2433;stroke:#1c2433;stroke-width:0.50px;">Porównywalna Seksualna</text>
<text transform="translate(303.80,433.80) scale(0.950,1)" x="0" y="0" textLength="211.79" lengthAdjust="spacing" style="font-family:'Liberation Sans';font-size:16.50px;font-weight:normal;fill:#1c2433;stroke:#1c2433;stroke-width:0.50px;">Wartość Rynkowa (SMV)</text>
<text transform="translate(363.50,519.00) scale(0.880,1)" x="0" y="0" textLength="117.39" lengthAdjust="spacing" style="font-family:'Liberation Sans';font-size:16.50px;font-weight:normal;fill:#181c28;stroke:#181c28;stroke-width:0.90px;">ROZPIĘTOŚĆ</text>
<text transform="translate(342.60,538.00) scale(0.880,1)" x="0" y="0" textLength="164.89" lengthAdjust="spacing" style="font-family:'Liberation Sans';font-size:16.50px;font-weight:normal;fill:#181c28;stroke:#181c28;stroke-width:0.90px;">CZASOWA MIĘDZY</text>
<text transform="translate(320.40,557.60) scale(0.880,1)" x="0" y="0" textLength="213.86" lengthAdjust="spacing" style="font-family:'Liberation Sans';font-size:16.50px;font-weight:normal;fill:#181c28;stroke:#181c28;stroke-width:0.90px;">SZCZYTAMI – 15-16 LAT</text>

<!-- big labels -->
<text transform="translate(222.10,309.80) scale(1.120,1)" x="0" y="0" textLength="90.62" lengthAdjust="spacing" style="font-family:'Liberation Mono';font-size:21.00px;font-weight:normal;fill:#1a1214;stroke:#1a1214;stroke-width:0.60px;">KOBIETY</text>
<text transform="translate(511.50,310.50) scale(1.120,1)" x="0" y="0" textLength="115.71" lengthAdjust="spacing" style="font-family:'Liberation Mono';font-size:21.00px;font-weight:normal;fill:#141a24;stroke:#141a24;stroke-width:0.60px;">MĘŻCZYŹNI</text>

<!-- middle marker -->
<line x1="405" y1="343" x2="405" y2="398" stroke="#111" stroke-width="3"/>
<circle cx="402" cy="342.4" r="37.5" fill="none" stroke="#56a35a" stroke-width="2.3"/>
<line x1="413" y1="346" x2="582" y2="405" stroke="#56a35a" stroke-width="2.6"/>

<text x="599.7" y="401.8" textLength="55.8" lengthAdjust="spacingAndGlyphs" style="font-size:16.5px;font-weight:bold;fill:#0a0d14;stroke:#0a0d14;stroke-width:0.35px;">Strefa</text>
<text x="583" y="425.2" textLength="101.6" lengthAdjust="spacingAndGlyphs" style="font-size:16.5px;font-weight:bold;fill:#0a0d14;stroke:#0a0d14;stroke-width:0.35px;">Małżeństw</text>

<!-- white dots -->
<circle cx="277.5" cy="407.4" r="3.2" fill="#fff"/>
<circle cx="549.3" cy="511.3" r="3.6" fill="#fff"/>

<!-- span markers -->
<line x1="277.4" y1="523.2" x2="277.4" y2="566.7" stroke="#111" stroke-width="3"/>
<line x1="549.7" y1="529.4" x2="549.7" y2="570" stroke="#111" stroke-width="3"/>
<g fill="#f4f6fb">
<polygon points="279.6,551.5 300,546.8 300,556"/>
<rect x="299" y="549.5" width="18" height="4"/>
<polygon points="547.5,551.5 527,546.8 527,556"/>
<rect x="510" y="549.5" width="18" height="4"/>
</g>

<!-- eye logo -->
<g>
<circle cx="1094.2" cy="129.1" r="29.2" fill="#3f7cc4" stroke="#10203c" stroke-width="2.2"/>
<g stroke="#1d3f70" stroke-width="1.1" opacity="0.9">
<line x1="1106.0" y1="131.4" x2="1120.7" y2="134.4"/>
<line x1="1104.2" y1="135.8" x2="1116.6" y2="144.1"/>
<line x1="1100.9" y1="139.1" x2="1109.2" y2="151.5"/>
<line x1="1096.5" y1="140.9" x2="1099.5" y2="155.6"/>
<line x1="1091.9" y1="140.9" x2="1088.9" y2="155.6"/>
<line x1="1087.5" y1="139.1" x2="1079.2" y2="151.5"/>
<line x1="1084.2" y1="135.8" x2="1071.8" y2="144.1"/>
<line x1="1082.4" y1="131.4" x2="1067.7" y2="134.4"/>
<line x1="1082.4" y1="126.8" x2="1067.7" y2="123.8"/>
<line x1="1084.2" y1="122.4" x2="1071.8" y2="114.1"/>
<line x1="1087.5" y1="119.1" x2="1079.2" y2="106.7"/>
<line x1="1091.9" y1="117.3" x2="1088.9" y2="102.6"/>
<line x1="1096.5" y1="117.3" x2="1099.5" y2="102.6"/>
<line x1="1100.9" y1="119.1" x2="1109.2" y2="106.7"/>
<line x1="1104.2" y1="122.4" x2="1116.6" y2="114.1"/>
<line x1="1106.0" y1="126.8" x2="1120.7" y2="123.8"/>
</g>
<circle cx="1094.2" cy="128.5" r="11.5" fill="#181818"/>
<circle cx="1106.9" cy="107.7" r="4.6" fill="#fff" stroke="#10203c" stroke-width="1.6"/>
<polygon points="1053,126.4 1093,130.2 1138.6,130.2 1138.6,142.8 1054.5,142.8" fill="#fbfbfb" stroke="#2a2a2a" stroke-width="1.6"/>
<text transform="translate(1056.5,140) scale(1.3,1)" style="font-size:15px;font-weight:bold;fill:#111;stroke:#111;stroke-width:0.4px;">W</text>
<text x="1075" y="140" style="font-size:9px;font-weight:bold;fill:#111;">Y</text>
<text x="1082.5" y="140" style="font-size:11px;font-weight:bold;fill:#111;stroke:#111;stroke-width:0.3px;">B</text>
<text x="1093.5" y="140.3" textLength="42.5" lengthAdjust="spacingAndGlyphs" style="font-size:9.5px;font-weight:bold;fill:#9a9460;stroke:#55533a;stroke-width:0.4px;">UDZENI</text>
</g>

<!-- RM logo -->
<rect x="1095.5" y="489.5" width="39" height="39" fill="#3c3c3c"/>
<text x="1098" y="521" textLength="34" lengthAdjust="spacingAndGlyphs" style="font-family:'Liberation Serif',serif;font-size:24px;fill:#f0f0f0;">RM</text>
<text x="1007.6" y="542.7" textLength="127.6" lengthAdjust="spacingAndGlyphs" style="font-family:'Liberation Serif',serif;font-size:6.5px;font-weight:bold;fill:#3a4256;">RATIONALMALE.WORDPRESS.COM</text>
</svg>
</body></html>
